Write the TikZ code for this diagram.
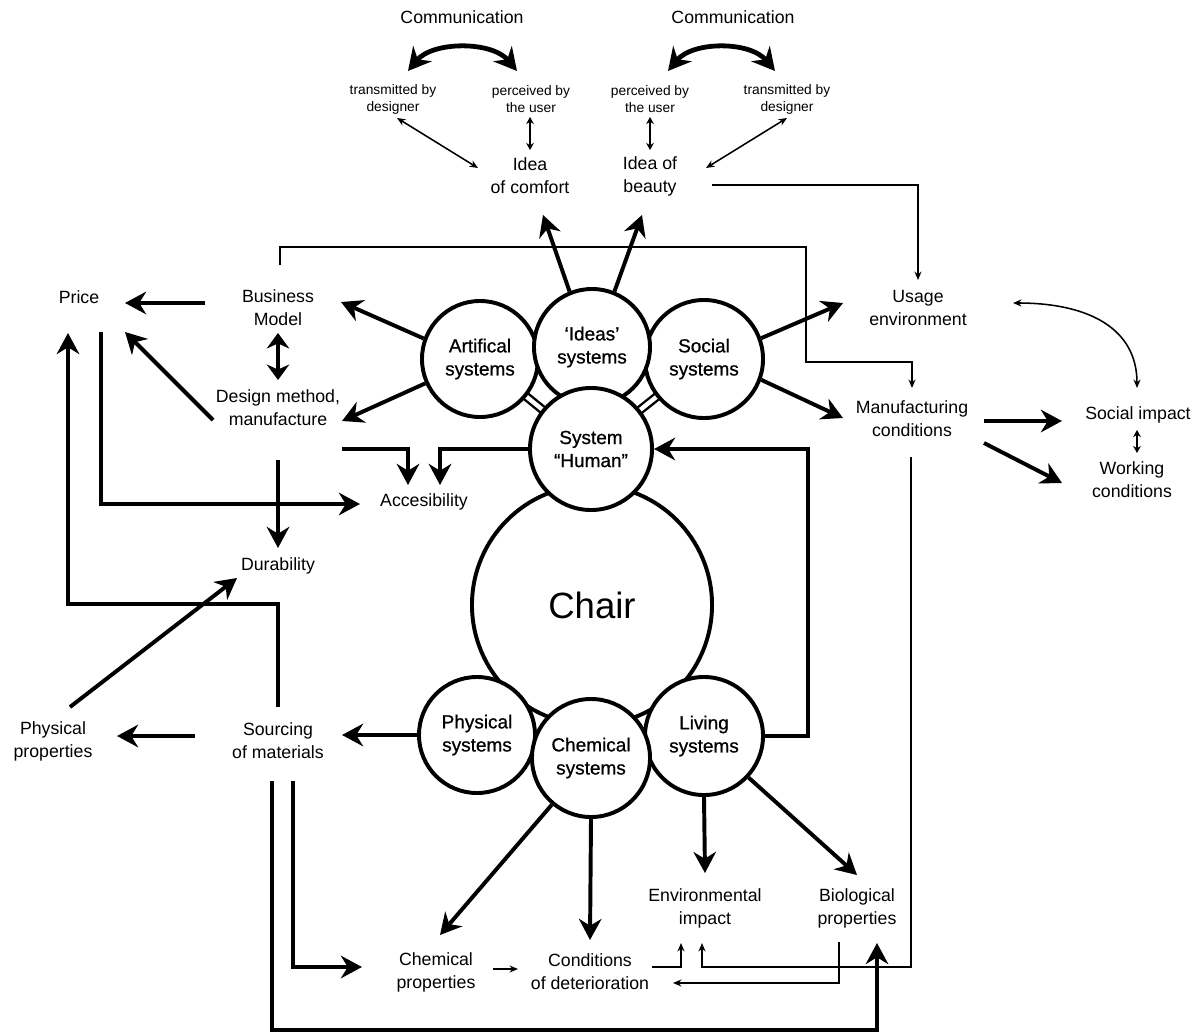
\documentclass[tikz,border=0pt]{standalone}
\usepackage{fontspec}
\setmainfont{Liberation Sans}
\newfontfamily\sysfont[FakeBold=0.8]{Liberation Sans}
\usetikzlibrary{arrows.meta}
\pgfdeclarelayer{background}
\pgfsetlayers{background,main}

\begin{document}
\begin{tikzpicture}[
	  x=0.025cm, y=-0.025cm,
	  lbl/.style={align=center, inner sep=0pt, font=\fontsize{12.6}{16.4}\selectfont},
	  smalllbl/.style={align=center, inner sep=0pt, font=\fontsize{9.8}{12.1}\selectfont},
	  sysbox/.style={circle, draw=black, line width=2.8pt, fill=white, minimum size=2.9cm, inner sep=0pt, align=center, font=\sysfont\fontsize{13.5}{16.4}\selectfont},
	  arrow/.style={line width=2.8pt, -{Stealth[length=15pt, width=16pt]}},
	  dblarrow/.style={line width=2.8pt, {Stealth[length=11pt, width=16pt]}-{Stealth[length=11pt, width=16pt]}},
	  commarrow/.style={line width=3.4pt, {Stealth[length=16pt, width=17pt]}-{Stealth[length=16pt, width=17pt]}},
	  thinarrow/.style={line width=1.1pt, -{Stealth[length=6pt, width=5pt]}},
	  thindbl/.style={line width=1.1pt, {Stealth[length=6pt, width=5pt]}-{Stealth[length=6pt, width=5pt]}},
	  smallarrows/.style={line width=1.4pt, {Stealth[length=5pt, width=5.5pt]}-{Stealth[length=5pt, width=5.5pt]}},
	  bond/.style={line width=1.6pt}
	]

	\useasboundingbox (0,0) rectangle (1204,1033);

	\node (chair) [sysbox, minimum size=6cm, font=\fontsize{26}{30}\selectfont] at (592,605) {Chair};
	\node (physys) [sysbox] at (477,735) {Physical\\systems};
	\node (living) [sysbox, minimum size=2.95cm] at (704,736) {Living\\systems};
	\node (chemsys) [sysbox, minimum size=2.95cm] at (591,758) {Chemical\\systems};
	\node (artif) [sysbox] at (480,359) {Artifical\\systems};
	\node (social) [sysbox, minimum size=2.95cm] at (704,359) {Social\\systems};
	\node (ideas) [sysbox] at (592,347) {‘Ideas’\\systems};
	\node (human) [sysbox, minimum size=3.05cm] at (591,449) {System\\“Human”};

	\node (comm1) [lbl] at (462,17) {Communication};
	\node (comm2) [lbl] at (733,17) {Communication};
	\node (trans1) [smalllbl] at (393,99) {transmitted by\\designer};
	\node (perc1) [smalllbl] at (531,99) {perceived by\\the user};
	\node (perc2) [smalllbl] at (650,99) {perceived by\\the user};
	\node (trans2) [smalllbl] at (787,99) {transmitted by\\designer};
	\node (comfort) [lbl] at (530,176) {Idea\\of comfort};
	\node (beauty) [lbl] at (650,176) {Idea of\\beauty};
	\node (usage) [lbl] at (918,308) {Usage\\environment};
	\node (manuf) [lbl] at (912,419) {Manufacturing\\conditions};
	\node (socimp) [lbl] at (1138,415) {Social impact};
	\node (working) [lbl] at (1132,480) {Working\\conditions};
	\node (price) [lbl] at (79,297) {Price};
	\node (bm) [lbl] at (278,308) {Business\\Model};
	\node (design) [lbl] at (278,408) {Design method,\\manufacture};
	\node (access) [lbl] at (424,502) {Accesibility};
	\node (durab) [lbl] at (278,566) {Durability};
	\node (physprop) [lbl] at (53,741) {Physical\\properties};
	\node (sourcing) [lbl] at (278,741) {Sourcing\\of materials};
	\node (chemprop) [lbl] at (436,972) {Chemical\\properties};
	\node (deter) [lbl] at (590,972) {Conditions\\of deterioration};
	\node (envimp) [lbl] at (705,908) {Environmental\\impact};
	\node (bioprop) [lbl] at (857,908) {Biological\\properties};

	\begin{pgfonlayer}{background}
	\draw [bond, transform canvas={shift={(-2.2,2.7)}}] (artif.center) -- (human.center);
	\draw [bond, transform canvas={shift={(2.2,-2.7)}}] (artif.center) -- (human.center);
	\draw [bond, transform canvas={shift={(2.2,2.7)}}] (social.center) -- (human.center);
	\draw [bond, transform canvas={shift={(-2.2,-2.7)}}] (social.center) -- (human.center);
	\end{pgfonlayer}

	\draw [commarrow] ([shift={(15,-28)}]trans1.center) .. controls +(25,-30) and +(-25,-30) .. ([shift={(-14,-28)}]perc1.center);
	\draw [commarrow] ([shift={(18,-28)}]perc2.center) .. controls +(25,-30) and +(-25,-30) .. ([shift={(-12,-28)}]trans2.center);
	\draw [smallarrows] ([shift={(-1,18)}]perc1.center) -- ([shift={(0,-26)}]comfort.center);
	\draw [smallarrows] ([shift={(0,18)}]perc2.center) -- ([shift={(0,-26)}]beauty.center);
	\draw [thindbl] ([shift={(4,19)}]trans1.center) -- ([shift={(-52,-8)}]comfort.center);
	\draw [thindbl] ([shift={(0,19)}]trans2.center) -- ([shift={(56,-8)}]beauty.center);
	\draw [arrow] (ideas.112) -- ([shift={(13,39)}]comfort.center);
	\draw [arrow] (ideas.68) -- ([shift={(-8,39)}]beauty.center);
	\draw [thinarrow] ([shift={(62,9)}]beauty.center) -| ([shift={(0,-28)}]usage.center);
	\draw [thinarrow] ([shift={(2,-43)}]bm.center) -- ++(0,-18) -- ++(526,0) -- ++(0,115) -| ([shift={(0,-31)}]manuf.center);
	\draw [arrow] (artif.160) -- ([shift={(63,-6)}]bm.center);
	\draw [arrow] (artif.204) -- ([shift={(64,13)}]design.center);
	\draw [arrow] (social.20) -- ([shift={(-75,-5)}]usage.center);
	\draw [arrow] (social.-20) -- ([shift={(-69,-1)}]manuf.center);
	\draw [arrow] ([shift={(72,2)}]manuf.center) -- ([shift={(-76,6)}]socimp.center);
	\draw [arrow] ([shift={(72,24)}]manuf.center) -- ([shift={(-70,3)}]working.center);
	\draw [smallarrows] ([shift={(-1,15)}]socimp.center) -- ([shift={(5,-27)}]working.center);
	\draw [thindbl] ([shift={(95,-5)}]usage.center) .. controls +(75,0) and +(0,-60) .. ([shift={(-1,-27)}]socimp.center);
	\draw [dblarrow] ([shift={(0,25)}]bm.center) -- ([shift={(0,-28)}]design.center);
	\draw [arrow] ([shift={(-73,-5)}]bm.center) -- ([shift={(46,6)}]price.center);
	\draw [arrow] ([shift={(-65,12)}]design.center) -- ([shift={(46,35)}]price.center);
	\draw [arrow] ([shift={(64,41)}]design.center) -| ([shift={(-16,-17)}]access.center);
	\draw [arrow] (human.west) -| ([shift={(16,-17)}]access.center);
	\draw [arrow] ([shift={(22,35)}]price.center) |- ([shift={(-64,2)}]access.center);
	\draw [arrow] ([shift={(0,52)}]design.center) -- ([shift={(0,-18)}]durab.center);
	\draw [arrow] ([shift={(0,-34)}]sourcing.center) -- ++(0,-103) -| ([shift={(-11,36)}]price.center);
	\draw [arrow] ([shift={(17,-34)}]physprop.center) -- ([shift={(-41,12)}]durab.center);
	\draw [arrow] ([shift={(-83,-5)}]sourcing.center) -- ([shift={(64,-5)}]physprop.center);
	\draw [arrow] (physys.west) -- ([shift={(64,-6)}]sourcing.center);
	\draw [arrow] ([shift={(15,40)}]sourcing.center) |- ([shift={(-74,-5)}]chemprop.center);
	\draw [arrow] ([shift={(-6,40)}]sourcing.center) -- ++(0,249) -| ([shift={(20,35)}]bioprop.center);
	\draw [arrow] (chemsys.230) -- ([shift={(4,-37)}]chemprop.center);
	\draw [arrow] (chemsys.south) -- ([shift={(0,-32)}]deter.center);
	\draw [arrow] (living.south) -- ([shift={(0,-35)}]envimp.center);
	\draw [arrow] (living.-43) -- ([shift={(0,-33)}]bioprop.center);
	\draw [arrow] (living.east) -- ++(43,0) |- (human.east);
	\draw [thinarrow] ([shift={(-1,38)}]manuf.center) -- ++(0,510) -| ([shift={(-3,35)}]envimp.center);
	\draw [thinarrow] ([shift={(62,-5)}]deter.center) -| ([shift={(-24,35)}]envimp.center);
	\draw [thinarrow] ([shift={(-18,34)}]bioprop.center) |- ([shift={(83,11)}]deter.center);
	\draw [thinarrow] ([shift={(57,-3)}]chemprop.center) -- ([shift={(-72,-3)}]deter.center);

\end{tikzpicture}
\end{document}
